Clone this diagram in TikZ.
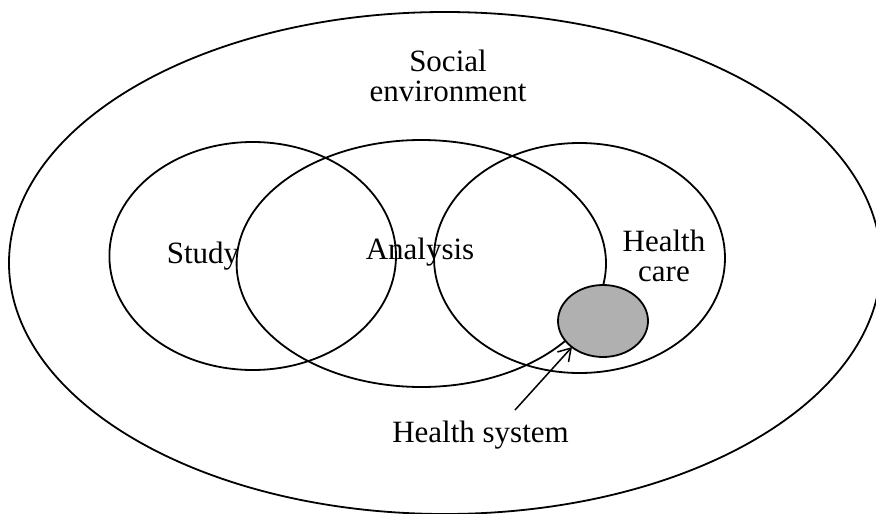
\documentclass[tikz,border=0pt]{standalone}
\usepackage{fontspec}
\setmainfont{Liberation Serif}
\usetikzlibrary{shapes.geometric,arrows.meta}
\definecolor{sysgray}{RGB}{176,176,176}
\tikzset{
  venn/.style={draw=black, line width=1.8pt},
  lbl/.style={font=\fontsize{31}{30}\selectfont, inner sep=0pt, align=center},
}

\begin{document}
\begin{tikzpicture}[x=1pt,y=-1pt]
  % Fix the size of the picture
  \useasboundingbox (0,0) rectangle (876,514);
  \clip (0,0) rectangle (876,514);

  % Draw the social environment
  \draw[venn] (445,263) ellipse [x radius=436pt, y radius=251pt];

  % Draw the three circles
  \draw[venn] (252.7,256) ellipse [x radius=143.3pt, y radius=114pt];
  \draw[venn] (421.3,263.5) ellipse [x radius=184.7pt, y radius=123.5pt];
  \draw[venn] (579.5,258) ellipse [x radius=145.5pt, y radius=115pt];

  % Draw the health system
  \node[ellipse, venn, fill=sysgray, minimum width=90pt, minimum height=72pt, inner sep=0pt, outer sep=0pt] (sys) at (603,321) {};

  % Label the regions
  \node[lbl] (social) at (448,76) {Social\\environment};
  \node[lbl, anchor=base] (study) at (203,263) {Study};
  \node[lbl, anchor=base] (analysis) at (420,259) {Analysis};
  \node[lbl] (care) at (664,256) {Health\\care};
  \node[lbl, anchor=base] (hsys) at (480.5,442) {Health system};

  % Point at the health system
  \coordinate (tail) at (515,410);
  \draw[-{Straight Barb[length=12pt,width=15pt]}, line width=1.5pt] (tail) -- (sys.220);
\end{tikzpicture}
\end{document}
